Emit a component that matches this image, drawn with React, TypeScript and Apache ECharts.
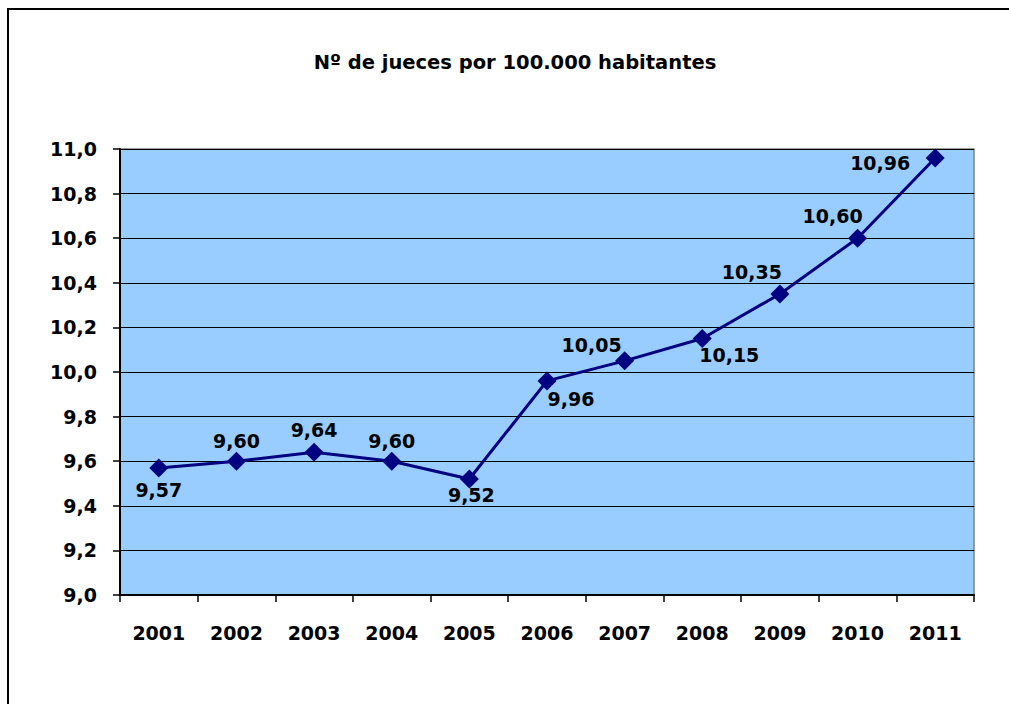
import React, { useEffect, useRef } from "react";
import * as echarts from "echarts";

const title = "Nº de jueces por 100.000 habitantes";
const years = ["2001", "2002", "2003", "2004", "2005", "2006", "2007", "2008", "2009", "2010", "2011"];
const judges = [9.57, 9.6, 9.64, 9.6, 9.52, 9.96, 10.05, 10.15, 10.35, 10.6, 10.96];
const labelOffsets: [number, number][] = [
  [0, 22], [0, -20], [0, -22], [0, -20], [2, 16], [24, 18],
  [-33, -16], [27, 16], [-28, -22], [-25, -22], [-55, 5],
];

const fmt = (v: number, d: number) => v.toFixed(d).replace(".", ",");

export default function App() {
  const ref = useRef<HTMLDivElement>(null);
  useEffect(() => {
    const chart = echarts.init(ref.current!, null, { renderer: "svg" });
    const font = "'DejaVu Sans', sans-serif";
    chart.setOption({
      animation: false,
      backgroundColor: "#ffffff",
      textStyle: { fontFamily: font },
      title: {
        text: title,
        left: 510,
        top: 47,
        textAlign: "center",
        textStyle: { fontSize: 19.5, fontWeight: "bold", color: "#000", fontFamily: font },
      },
      graphic: [
        {
          type: "rect",
          shape: { x: 8, y: 9, width: 1100, height: 800 },
          style: { fill: "none", stroke: "#000", lineWidth: 2 },
          z: -1,
        },
      ],
      grid: {
        left: 120,
        top: 149,
        width: 854,
        height: 446,
        show: true,
        backgroundColor: "#99CCFF",
        borderColor: "#808080",
        borderWidth: 1.5,
      },
      xAxis: {
        type: "category",
        data: years,
        boundaryGap: true,
        axisLine: { lineStyle: { color: "#000", width: 2 } },
        axisTick: { show: true, alignWithLabel: false, length: 7, lineStyle: { color: "#000", width: 1.5 } },
        axisLabel: { color: "#000", fontSize: 19, fontWeight: "bold", margin: 28, fontFamily: font },
        splitLine: { show: false },
      },
      yAxis: {
        type: "value",
        min: 9,
        max: 11,
        interval: 0.2,
        axisLine: { show: true, lineStyle: { color: "#000", width: 2 } },
        axisTick: { show: true, length: 7, lineStyle: { color: "#000", width: 1.5 } },
        axisLabel: {
          color: "#000",
          fontSize: 19,
          fontWeight: "bold",
          margin: 23,
          fontFamily: font,
          formatter: (v: number) => fmt(v, 1),
        },
        splitLine: { show: true, lineStyle: { color: "#000", width: 1 } },
      },
      series: [
        {
          type: "line",
          data: judges.map((v, i) => ({
            value: v,
            label: { offset: labelOffsets[i] },
          })),
          symbol: "diamond",
          symbolSize: 19,
          lineStyle: { color: "#000080", width: 3 },
          itemStyle: { color: "#000080" },
          label: {
            show: true,
            position: "inside",
            color: "#000",
            fontSize: 19,
            fontWeight: "bold",
            fontFamily: font,
            formatter: (p: any) => fmt(p.value, 2),
          },
        },
      ],
    });
    return () => chart.dispose();
  }, []);
  return (
    <div
      ref={ref}
      style={{ position: "fixed", left: 0, top: 0, width: 1009, height: 704 }}
    />
  );
}
